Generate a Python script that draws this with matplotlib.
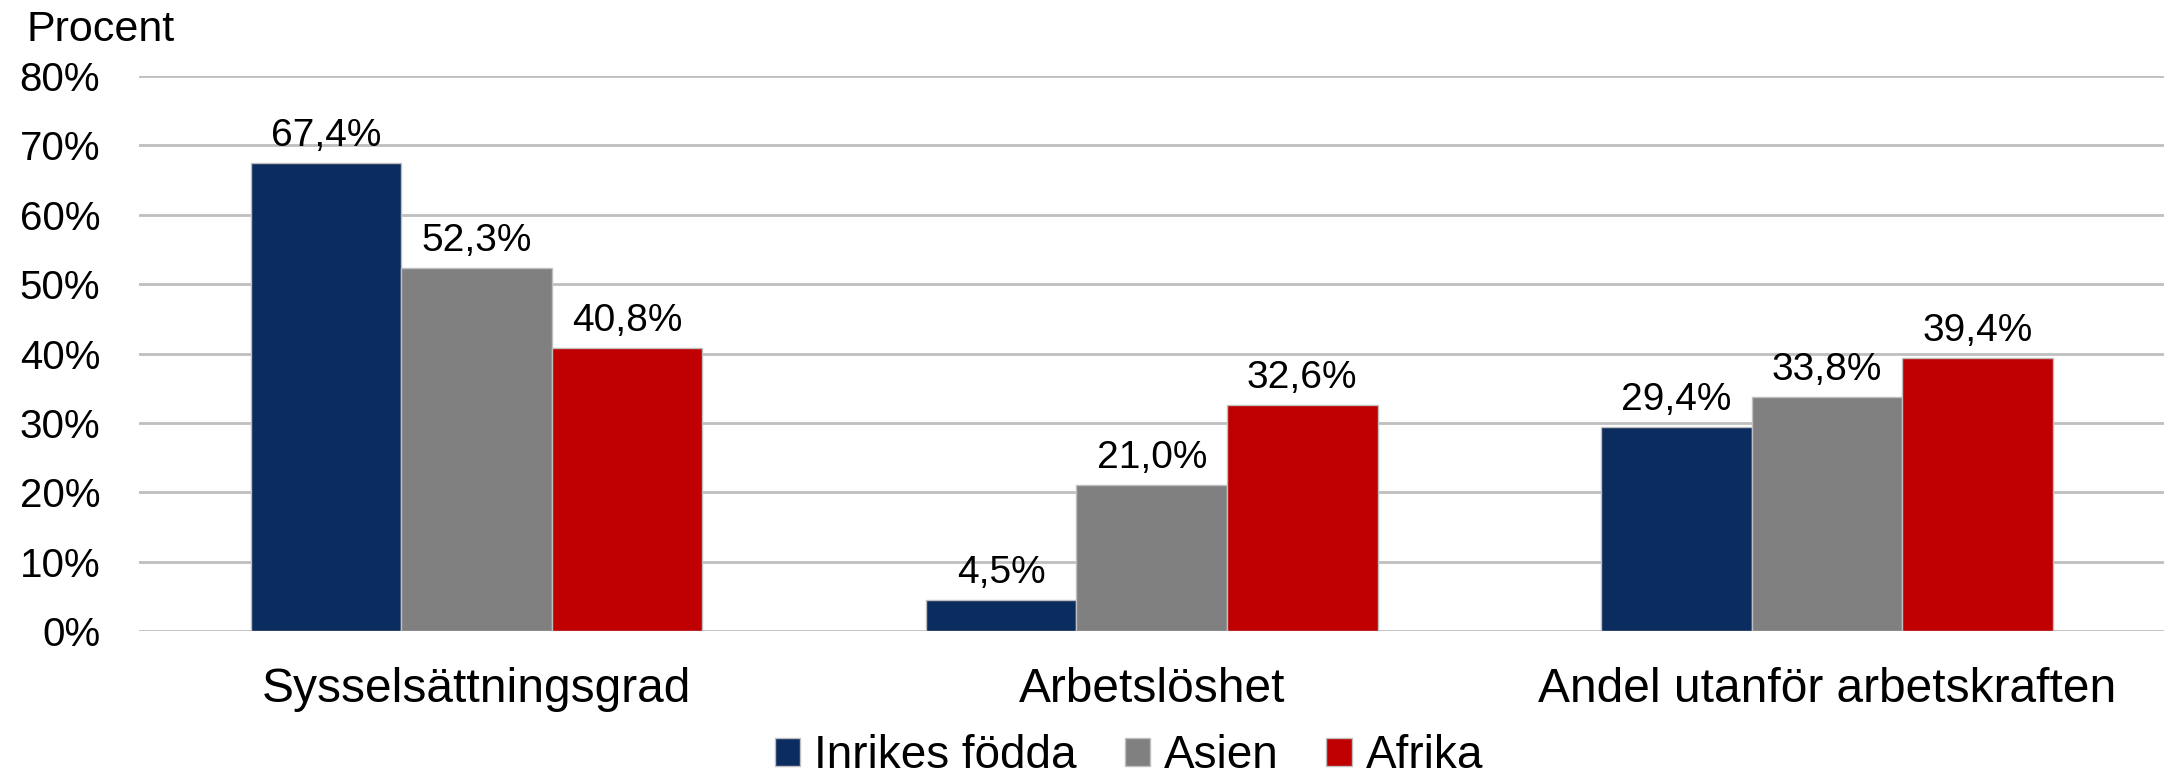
import matplotlib
matplotlib.use("Agg")
import matplotlib.pyplot as plt
import numpy as np

categories = ["Sysselsättningsgrad", "Arbetslöshet", "Andel utanför arbetskraften"]
series_names = ["Inrikes födda", "Asien", "Afrika"]
inrikes = [67.4, 4.5, 29.4]
asien = [52.3, 21.0, 33.8]
afrika = [40.8, 32.6, 39.4]
colors = ["#0B2C5F", "#808080", "#C00000"]
yticks = [0, 10, 20, 30, 40, 50, 60, 70, 80]

plt.rcParams['font.family'] = ['Liberation Sans', 'DejaVu Sans']

fig = plt.figure(figsize=(21.71, 7.83), dpi=100)
ax = fig.add_axes([0.064, 0.194, 0.933, 0.709])

x = np.arange(len(categories))
w = 0.223
for i, (vals, name, c) in enumerate(zip([inrikes, asien, afrika], series_names, colors)):
    pos = x + (i - 1) * w
    bars = ax.bar(pos, vals, w, color=c, edgecolor="#BFBFBF", linewidth=1, label=name, zorder=3)
    for b, v in zip(bars, vals):
        ax.text(b.get_x() + b.get_width() / 2, v + 1.3, f"{v:.1f}%".replace(".", ","),
                ha="center", va="bottom", fontsize=28)

ax.set_xlim(-0.5, 2.5)
ax.set_ylim(0, 80)
ax.set_yticks(yticks)
ax.set_yticklabels([f"{t}%" for t in yticks], fontsize=29)
ax.set_xticks(x)
ax.set_xticklabels(categories, fontsize=34.5)
ax.tick_params(axis="y", length=0, pad=28)
ax.tick_params(axis="x", length=0, pad=26)
ax.grid(axis="y", color="#BFBFBF", linewidth=2, zorder=0)
for s in ax.spines.values():
    s.set_visible(False)

fig.text(0.012, 0.962, "Procent", fontsize=31, ha="left", va="center")

leg = fig.legend(loc="center", bbox_to_anchor=(0.52, 0.034), ncol=3, frameon=False,
                 fontsize=33, handlelength=0.55, handleheight=0.55, handletextpad=0.3,
                 columnspacing=1.05, borderpad=0.1)

fig.savefig("out.png", dpi=100)
